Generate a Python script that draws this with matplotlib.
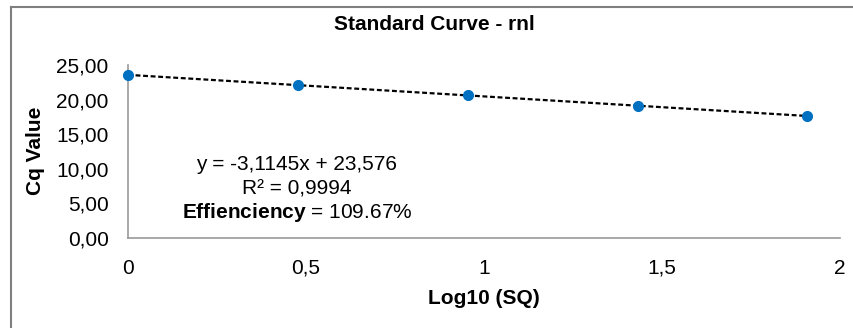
import numpy as np
import matplotlib
matplotlib.use("Agg")
import matplotlib.pyplot as plt
from matplotlib.lines import Line2D

plt.rcParams['font.family'] = ['Liberation Sans', 'DejaVu Sans']
plt.rcParams['mathtext.fontset'] = 'custom'
plt.rcParams['mathtext.rm'] = 'Liberation Sans'
plt.rcParams['mathtext.bf'] = 'Liberation Sans:bold'

# 数据：log10(SQ) 与 Cq 值
log_sq = [0.0, 0.4771, 0.9542, 1.4314, 1.9085]
cq = [23.55, 22.10, 20.60, 19.12, 17.63]
# 趋势线参数
slope = -3.1145
intercept = 23.576
x_ticks = [0, 0.5, 1, 1.5, 2]
x_tick_labels = ["0", "0,5", "1", "1,5", "2"]
y_ticks = [0, 5, 10, 15, 20, 25]
y_tick_labels = ["0,00", "5,00", "10,00", "15,00", "20,00", "25,00"]

fig = plt.figure(figsize=(8.54, 3.28), dpi=100)
ax = fig.add_axes([128/854, 1-238/328, 712/854, 173/328])

# 趋势线
xl = np.array([log_sq[0], log_sq[-1]])
ax.plot(xl, slope*xl + intercept, color="black", lw=1.6, ls=(0, (2.2, 1.2)), zorder=2)
# 数据点
ax.plot(log_sq, cq, "o", color="#0070C0", markersize=7, clip_on=False, zorder=3)

ax.set_xlim(0, 2)
ax.set_ylim(0, 25)
ax.set_xticks(x_ticks)
ax.set_xticklabels(x_tick_labels)
ax.set_yticks(y_ticks)
ax.set_yticklabels(y_tick_labels)
ax.tick_params(axis="x", length=0, pad=15, labelsize=15)
ax.tick_params(axis="y", length=0, pad=14, labelsize=15)
for s in ["top", "right"]:
    ax.spines[s].set_visible(False)
for s in ["left", "bottom"]:
    ax.spines[s].set_color("#9a9a9a")
    ax.spines[s].set_linewidth(1.2)

# 标题与坐标轴标签
fig.text(434/854, 1-25/328, "Standard Curve - rnl", ha="center", va="center",
         fontsize=15, fontweight="bold")
fig.text(36/854, 1-151/328, "Cq Value", rotation=90, ha="center", va="center",
         fontsize=15, fontweight="bold")
fig.text(484/854, 1-298/328, "Log10 (SQ)", ha="center", va="center",
         fontsize=15, fontweight="bold")

# 方程文本
tx = (297-128)/712
ax.text(tx, (238-164)/173, "y = -3,1145x + 23,576", transform=ax.transAxes,
        ha="center", va="center", fontsize=15)
ax.text(tx, (238-189)/173, "R² = 0,9994", transform=ax.transAxes,
        ha="center", va="center", fontsize=15)
ax.text(tx, (238-213)/173, r"$\mathbf{Effienciency}$ = 109.67%", transform=ax.transAxes,
        ha="center", va="center", fontsize=15)

# 外框
fig.add_artist(Line2D([11/854, 11/854], [0, 1-7/328], transform=fig.transFigure,
                      color="#7f7f7f", lw=1.5))
fig.add_artist(Line2D([11/854, 1], [1-7/328, 1-7/328], transform=fig.transFigure,
                      color="#7f7f7f", lw=1.5))

fig.savefig("out.png", dpi=100, facecolor="white")
